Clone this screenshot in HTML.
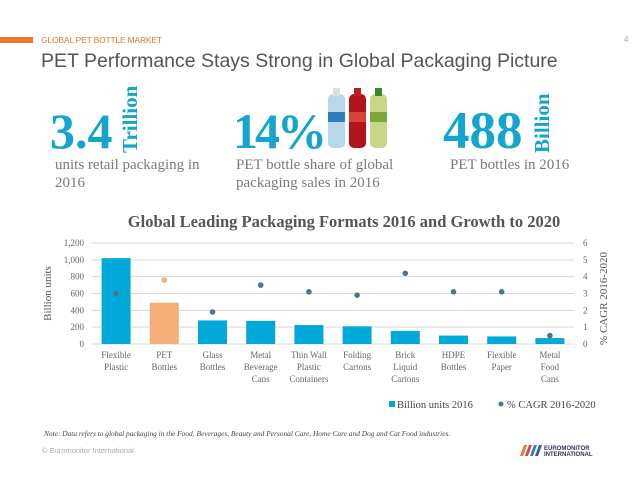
<!DOCTYPE html>
<html><head><meta charset="utf-8">
<style>
body{margin:0;width:638px;height:479px;background:#fff;position:relative;overflow:hidden;font-family:"Liberation Sans",sans-serif}
.abs{position:absolute}
.big{color:#14a5cf;font-family:"Liberation Serif",serif;font-weight:bold;font-size:50px;line-height:50px}
.vert{color:#14a5cf;font-family:"Liberation Serif",serif;font-weight:bold;font-size:21px;line-height:22px;transform:rotate(-90deg);transform-origin:left top;white-space:nowrap}
.desc{color:#7a7a7a;font-family:"Liberation Serif",serif;font-size:15px;line-height:18px}
</style></head><body>
<div class="abs" style="left:0;top:37px;width:33px;height:6px;background:#e8762d"></div>
<div class="abs" style="left:41px;top:35px;font-size:8.5px;color:#e8762d;letter-spacing:-0.2px">GLOBAL PET BOTTLE MARKET</div>
<div class="abs" style="left:624px;top:35px;font-size:8px;color:#aaa">4</div>
<div class="abs" style="left:41px;top:50px;font-size:19.5px;color:#555">PET Performance Stays Strong in Global Packaging Picture</div>

<div class="abs big" style="left:50px;top:106px">3.4</div>
<div class="abs vert" style="left:119px;top:153px">Trillion</div>
<div class="abs desc" style="left:55px;top:156px">units retail packaging in<br>2016</div>

<div class="abs big" style="left:233px;top:106px;letter-spacing:-3px">14%</div>
<svg class="abs" style="left:326px;top:88px" width="64" height="60">
<rect x="2" y="6" width="17" height="54" rx="5" fill="#b8d7ea"/><rect x="7" y="0" width="7" height="8" fill="#ddd"/><rect x="2" y="24" width="17" height="10" fill="#2d7fbf"/>
<rect x="23" y="6" width="17" height="54" rx="5" fill="#b2141c"/><rect x="28" y="0" width="7" height="8" fill="#c01c24"/><rect x="23" y="24" width="17" height="10" fill="#d9443a"/>
<rect x="44" y="6" width="17" height="54" rx="5" fill="#c9d68a"/><rect x="49" y="0" width="7" height="8" fill="#3a8a2a"/><rect x="44" y="24" width="17" height="10" fill="#7aa83a"/>
</svg>
<div class="abs desc" style="left:236px;top:156px">PET bottle share of global<br>packaging sales in 2016</div>

<div class="abs big" style="left:443px;top:106px;font-size:53px">488</div>
<div class="abs vert" style="left:531px;top:153px">Billion</div>
<div class="abs desc" style="left:450px;top:156px">PET bottles in 2016</div>

<div class="abs" style="left:0;width:638px;top:212px;text-align:center;font-family:'Liberation Serif',serif;font-weight:bold;font-size:16.5px;color:#555;padding-left:50px;box-sizing:border-box">Global Leading Packaging Formats 2016 and Growth to 2020</div>

<svg id="chart" class="abs" style="left:0;top:230px" width="638" height="190"></svg>

<div class="abs" style="left:44px;top:429px;font-family:'Liberation Serif',serif;font-style:italic;font-size:7.4px;color:#444">Note: Data refers to global packaging in the Food, Beverages, Beauty and Personal Care, Home Care and Dog and Cat Food industries.</div>
<div class="abs" style="left:42px;top:446px;font-size:7.5px;color:#aaa">© Euromonitor International</div>
<svg class="abs" style="left:518px;top:443px" width="84" height="14">
<polygon points="2,13 6,2 9,2 5,13" fill="#e8762d"/><polygon points="7,13 11,2 14,2 10,13" fill="#d9443a"/><polygon points="12,13 16,2 19,2 15,13" fill="#2d7fbf"/><polygon points="17,13 21,2 24,2 20,13" fill="#3a5a9a"/>
<text x="26" y="7" font-size="6" font-weight="bold" fill="#335" font-family="Liberation Sans">EUROMONITOR</text>
<text x="26" y="13" font-size="6" font-weight="bold" fill="#335" font-family="Liberation Sans">INTERNATIONAL</text>
</svg>

<script>
const categories=[["Flexible","Plastic"],["PET","Bottles"],["Glass","Bottles"],["Metal","Beverage","Cans"],["Thin Wall","Plastic","Containers"],["Folding","Cartons"],["Brick","Liquid","Cartons"],["HDPE","Bottles"],["Flexible","Paper"],["Metal","Food","Cans"]];
const unitsValues=[1020,490,280,275,225,210,155,100,90,70];
const cagrValues=[3.0,3.8,1.9,3.5,3.1,2.9,4.2,3.1,3.1,0.5];
const leftTicks=[0,200,400,600,800,1000,1200];
const leftTickLabels=["0","200","400","600","800","1,000","1,200"];
const rightTicks=[0,1,2,3,4,5,6];
const NS="http://www.w3.org/2000/svg";
const svg=document.getElementById('chart');
const x0=92,x1=574,yBase=114,yTop=13;
const yL=v=>yBase-(v/1200)*(yBase-yTop);
const yR=v=>yBase-(v/6)*(yBase-yTop);
const bw=(x1-x0)/categories.length;
const xc=i=>x0+bw*(i+0.5);
function mk(t,a){const e=document.createElementNS(NS,t);for(const k in a)e.setAttribute(k,a[k]);svg.appendChild(e);return e;}
leftTicks.forEach((v,i)=>{
 const l=mk('line',{x1:x0,x2:x1,y1:yL(v),y2:yL(v),stroke:'#d9d9d9','stroke-width':1});
 
 
 const t=mk('text',{x:84,y:yL(v)+3,'text-anchor':'end','font-size':9,fill:'#666','font-family':'Liberation Serif'});
 t.textContent=leftTickLabels[i];
 
 
});
rightTicks.forEach(v=>{
 const t=mk('text',{x:583,y:yR(v)+3,'font-size':9,fill:'#666','font-family':'Liberation Serif'});
 t.textContent=v;
 
 
});
unitsValues.forEach((v,i)=>{
 const r=mk('rect',{x:xc(i)-14.5,y:yL(v),width:29,height:yBase-yL(v),fill:i==1?'#f5ae78':'#00a9d9'});
 
 
 categories[i].forEach((s,j)=>{
  const t=mk('text',{x:xc(i),y:yBase+14+j*12,'text-anchor':'middle','font-size':9,fill:'#666','font-family':'Liberation Serif'});
  t.textContent=s;
  
  
 });
});
cagrValues.forEach((v,i)=>{
 const c=mk('circle',{cx:xc(i),cy:yR(v),r:2.8,fill:i==1?'#f5ae78':'#4a7593'});
 
 
});
let t=mk('text',{x:0,y:0,'font-size':11,fill:'#555','font-family':'Liberation Serif','text-anchor':'middle',transform:`translate(51,${(yBase+yTop)/2}) rotate(-90)`});
t.textContent='Billion units';


t=mk('text',{x:0,y:0,'font-size':11,fill:'#555','font-family':'Liberation Serif','text-anchor':'middle',transform:`translate(607,${(yBase+yTop)/2+5}) rotate(-90)`});
t.textContent='% CAGR 2016-2020';


let r=mk('rect',{x:389,y:171,width:6,height:6,fill:'#00a9d9'});


t=mk('text',{x:397,y:178,'font-size':10.5,fill:'#444','font-family':'Liberation Serif'});
t.textContent='Billion units 2016';


let c=mk('circle',{cx:501,cy:174,r:2.5,fill:'#4a7593'});


t=mk('text',{x:507,y:178,'font-size':10.5,fill:'#444','font-family':'Liberation Serif'});
t.textContent='% CAGR 2016-2020';


</script>
</body></html>
